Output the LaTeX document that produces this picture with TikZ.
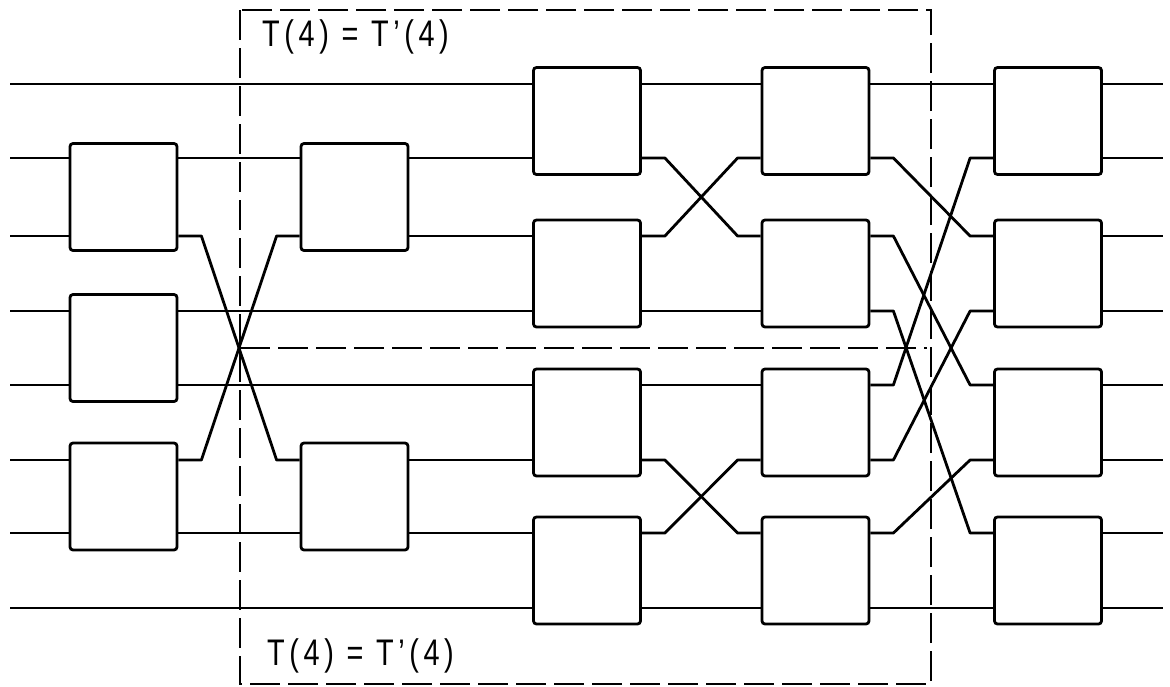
\documentclass[tikz,border=0pt]{standalone}
\usepackage{fontspec}
\usepackage{graphicx}
\newfontfamily\labfont[LetterSpace=16]{Liberation Sans}
\usetikzlibrary{calc}
\newcommand\xwire[2]{\draw[wire] #1 -- ++(23,0) -- ($#2+(-23,0)$) -- #2;}
\begin{document}
\begin{tikzpicture}[x=1pt,y=-1pt,
  blk/.style={draw, line width=2.8pt, rounded corners=3pt, minimum width=107pt, minimum height=107pt, inner sep=0pt},
  wire/.style={line width=2.8pt, line join=round},
  frame/.style={line width=2.1pt, dash pattern=on 30pt off 8pt},
  lab/.style={anchor=west, inner sep=0pt, font=\labfont\fontsize{37}{40}\selectfont}]
\useasboundingbox[fill=white] (0,0) rectangle (1170,686);
% line levels
\foreach \i/\y in {1/84,2/158,3/236,4/311,5/385,6/460,7/533,8/608}{
  \coordinate (L\i) at (0,\y);
  \coordinate (s\i) at (10,\y);
  \coordinate (e\i) at (1163,\y);
}
% boxes
\node[blk] (A1) at (123.5,197) {};
\node[blk] (A2) at (123.5,348) {};
\node[blk] (A3) at (123.5,496.5) {};
\node[blk] (B1) at (354.5,197) {};
\node[blk] (B2) at (354.5,496.5) {};
\node[blk] (C1) at (587,121) {};
\node[blk] (C2) at (587,273.5) {};
\node[blk] (C3) at (587,422.5) {};
\node[blk] (C4) at (587,570.5) {};
\node[blk] (D1) at (815.5,121) {};
\node[blk] (D2) at (815.5,273.5) {};
\node[blk] (D3) at (815.5,422.5) {};
\node[blk] (D4) at (815.5,570.5) {};
\node[blk] (E1) at (1048,121) {};
\node[blk] (E2) at (1048,273.5) {};
\node[blk] (E3) at (1048,422.5) {};
\node[blk] (E4) at (1048,570.5) {};
% inputs
\draw[wire] (s1) -- (C1.west |- L1);
\draw[wire] (s2) -- (A1.west |- L2);
\draw[wire] (s3) -- (A1.west |- L3);
\draw[wire] (s4) -- (A2.west |- L4);
\draw[wire] (s5) -- (A2.west |- L5);
\draw[wire] (s6) -- (A3.west |- L6);
\draw[wire] (s7) -- (A3.west |- L7);
\draw[wire] (s8) -- (C4.west |- L8);
% stage A -> B/C
\draw[wire] (A1.east |- L2) -- (B1.west |- L2);
\draw[wire] (A2.east |- L4) -- (C2.west |- L4);
\draw[wire] (A2.east |- L5) -- (C3.west |- L5);
\draw[wire] (A3.east |- L7) -- (B2.west |- L7);
\xwire{(A1.east |- L3)}{(B2.west |- L6)}
\xwire{(A3.east |- L6)}{(B1.west |- L3)}
% stage B -> C
\draw[wire] (B1.east |- L2) -- (C1.west |- L2);
\draw[wire] (B1.east |- L3) -- (C2.west |- L3);
\draw[wire] (B2.east |- L6) -- (C3.west |- L6);
\draw[wire] (B2.east |- L7) -- (C4.west |- L7);
% stage C -> D
\draw[wire] (C1.east |- L1) -- (D1.west |- L1);
\draw[wire] (C2.east |- L4) -- (D2.west |- L4);
\draw[wire] (C3.east |- L5) -- (D3.west |- L5);
\draw[wire] (C4.east |- L8) -- (D4.west |- L8);
\xwire{(C1.east |- L2)}{(D2.west |- L3)}
\xwire{(C2.east |- L3)}{(D1.west |- L2)}
\xwire{(C3.east |- L6)}{(D4.west |- L7)}
\xwire{(C4.east |- L7)}{(D3.west |- L6)}
% stage D -> E
\draw[wire] (D1.east |- L1) -- (E1.west |- L1);
\draw[wire] (D4.east |- L8) -- (E4.west |- L8);
\xwire{(D1.east |- L2)}{(E2.west |- L3)}
\xwire{(D2.east |- L3)}{(E3.west |- L5)}
\xwire{(D2.east |- L4)}{(E4.west |- L7)}
\xwire{(D3.east |- L5)}{(E1.west |- L2)}
\xwire{(D3.east |- L6)}{(E2.west |- L4)}
\xwire{(D4.east |- L7)}{(E3.west |- L6)}
% outputs
\draw[wire] (E1.east |- L1) -- (e1);
\draw[wire] (E1.east |- L2) -- (e2);
\draw[wire] (E2.east |- L3) -- (e3);
\draw[wire] (E2.east |- L4) -- (e4);
\draw[wire] (E3.east |- L5) -- (e5);
\draw[wire] (E3.east |- L6) -- (e6);
\draw[wire] (E4.east |- L7) -- (e7);
\draw[wire] (E4.east |- L8) -- (e8);
% dashed frame
\coordinate (f1) at (240,10);
\coordinate (f2) at (931,684);
\coordinate (m1) at (240,348);
\coordinate (m2) at (927,348);
\draw[frame] (f1) rectangle (f2);
\draw[frame] (m1) -- (m2);
% labels
\node[lab] (t1) at (262,37) {\scalebox{0.78}[1]{T(4) = T’(4)}};
\node[lab] (t2) at (267,656) {\scalebox{0.78}[1]{T(4) = T’(4)}};
\end{tikzpicture}
\end{document}
